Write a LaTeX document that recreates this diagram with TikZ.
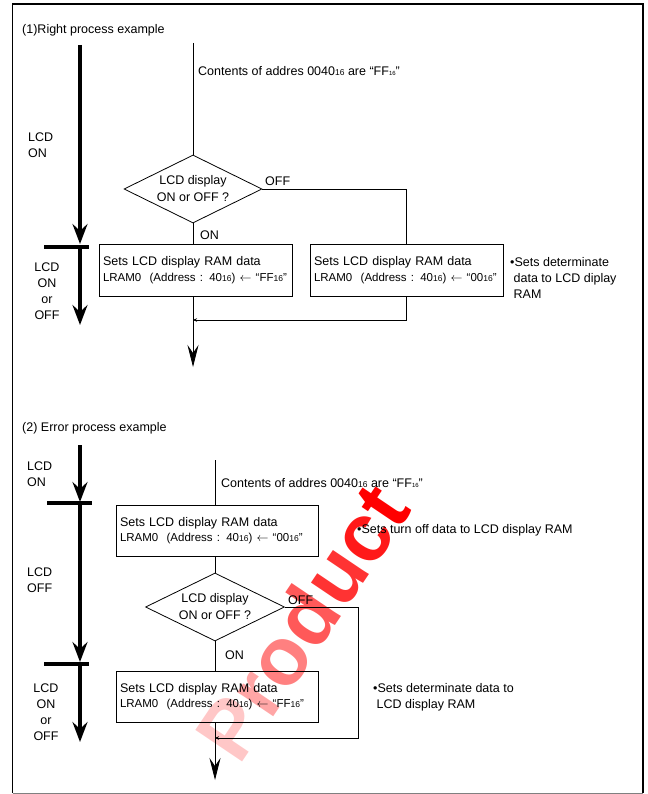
\documentclass[tikz,border=0pt]{standalone}
\usepackage{fontspec}
\setmainfont{Liberation Sans}
\usetikzlibrary{arrows.meta,shapes.geometric,positioning}
\newcommand{\hx}[1]{{\fontsize{8.5}{9}\selectfont #1}}
\newcommand{\hxs}[1]{{\fontsize{6}{6}\selectfont #1}}
\newcommand{\lram}[1]{{\fontsize{11.5}{13}\selectfont LRAM0~~(Address : 40\hx{16}) $\leftarrow$ “#1\hx{16}”}}

\begin{document}
\begin{tikzpicture}[x=1pt,y=-1pt,
    font=\fontsize{12.5}{16}\selectfont,
    thin line/.style={line width=0.8pt},
    procbox/.style={draw,thin line,minimum width=193pt,minimum height=52pt,
      text width=185pt,inner sep=4pt,align=left,font=\fontsize{12.5}{15.5}\selectfont},
    decide/.style={diamond,draw,thin line,aspect=2,inner sep=0pt,
      minimum width=138pt,minimum height=68pt,align=center,font=\fontsize{12.5}{17}\selectfont},
    lbl/.style={inner sep=0pt,anchor=west,align=left},
    state/.style={line width=3.3pt},
    statetip/.style={state,-{Stealth[length=20pt,width=15pt,inset=7pt]}},
    flowtip/.style={thin line,-{Stealth[length=22pt,width=11pt,inset=8pt]}},
    smalltip/.style={thin line,-{Stealth[length=4pt,width=3.5pt]}}]
  \useasboundingbox (0,0) rectangle (647,794);
  % watermark
  \node[rotate=56,inner sep=0pt,font=\fontsize{82}{82}\bfseries\selectfont] (wm) at (302,622)
    {\textcolor{red!22}{P}\textcolor{red!35}{r}\textcolor{red!50}{o}\textcolor{red!65}{d}\textcolor{red!80}{u}\textcolor{red!90}{c}\textcolor{red}{t}};
  % frame
  \draw[line width=1.5pt] (12.5,793) -- (12.5,4) -- (643,4) -- (643,793);
  \draw[gray,thin line] (12.5,793) -- (643,793);

  % (1) right process
  \node[lbl] (title1) at (22,30) {(1)Right process example};
  \coordinate (start1) at (193,43);
  \node[decide] (d1) at (193,189) {LCD display\\ON or OFF ?};
  \node[procbox] (set1) at (195.5,270) {Sets LCD display RAM data\\\lram{FF}};
  \node[procbox] (set2) at (406.5,270) {Sets LCD display RAM data\\\lram{00}};
  \node[lbl] (cont1) at (198,71) {Contents of addres 0040\hx{16} are “FF\hxs{16}”};
  \node[lbl] (off1) at (265,181) {OFF};
  \node[lbl] (on1) at (200,235) {ON};
  \node[lbl] (note1) at (510,278) {•Sets determinate\\\ data to LCD diplay\\\ RAM};
  \coordinate (m1) at (193,320);
  \coordinate (end1) at (193,367);
  \draw[thin line] (start1) -- (d1.north);
  \draw[thin line] (d1.south) -- (d1.south |- set1.north);
  \draw[thin line] (d1.east) -| (set2.north);
  \draw[smalltip] (set2.south) |- (m1);
  \draw[flowtip] (d1.south |- set1.south) -- (end1);
  % LCD state
  \draw[statetip] (80,45) -- (80,244);
  \draw[state] (44,247) -- (89,247);
  \draw[statetip] (80,247) -- (80,325);
  \node[lbl] (on1s) at (28,145) {LCD\\ON};
  \node[inner sep=0pt,align=center] (any1) at (47,291) {LCD\\ON\\or\\OFF};

  % (2) error process
  \node[lbl] (title2) at (22,428) {(2) Error process example};
  \coordinate (start2) at (215,460);
  \node[procbox,minimum width=202pt,minimum height=51pt,text width=194pt] (set3) at (217,530.5)
    {Sets LCD display RAM data\\\lram{00}};
  \node[decide,minimum width=139pt] (d2) at (215,607) {LCD display\\ON or OFF ?};
  \node[procbox,minimum width=202pt,minimum height=51pt,text width=194pt] (set4) at (217,696.5)
    {Sets LCD display RAM data\\\lram{FF}};
  \node[lbl] (cont2) at (221,483) {Contents of addres 0040\hx{16} are “FF\hxs{16}”};
  \node[lbl] (off2) at (288,600) {OFF};
  \node[lbl] (on2) at (225,655) {ON};
  \node[lbl] (note2) at (357,530) {•Sets turn off data to LCD display RAM};
  \node[lbl] (note3) at (373,697) {•Sets determinate data to\\\ LCD display RAM};
  \coordinate (c2) at (358,607);
  \coordinate (m2) at (215,738);
  \coordinate (end2) at (215,780);
  \draw[thin line] (start2) -- (start2 |- set3.north);
  \draw[thin line] (d2.north |- set3.south) -- (d2.north);
  \draw[thin line] (d2.south) -- (d2.south |- set4.north);
  \draw[smalltip] (d2.east) -- (c2) |- (m2);
  \draw[flowtip] (d2.south |- set4.south) -- (end2);
  % LCD state
  \draw[statetip] (80,445) -- (80,502);
  \draw[state] (47,503) -- (92,503);
  \draw[statetip] (80,503) -- (80,662);
  \draw[state] (44,664) -- (89,664);
  \draw[statetip] (80,664) -- (80,742);
  \node[lbl] (on2s) at (27,474) {LCD\\ON};
  \node[lbl] (off2s) at (27,580) {LCD\\OFF};
  \node[inner sep=0pt,align=center] (any2) at (46,712) {LCD\\ON\\or\\OFF};
\end{tikzpicture}
\end{document}
